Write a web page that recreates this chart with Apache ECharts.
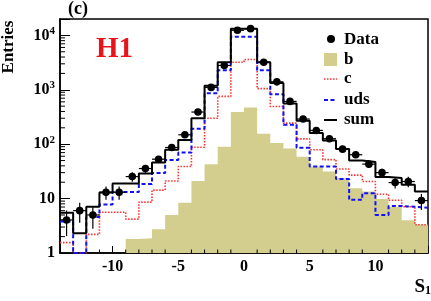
<!DOCTYPE html>
<html><head><meta charset="utf-8">
<script src="https://cdn.jsdelivr.net/npm/echarts@6/dist/echarts.min.js"></script>
<style>html,body{margin:0;padding:0;background:#fff}#c{width:431px;height:301px}</style>
</head><body><div id="c"></div>
<script>
// ---- data ----
const binLeft = [-14,-13,-12,-11,-10,-9,-8,-7,-6,-5,-4,-3,-2,-1,0,1,2,3,4,5,6,7,8,9,10,11,12,13];
const binWidth = 1;
const sumVals = [5.5,2.3,7.1,12.9,19,19,29,46,79,120,300,1190,3190,13200,13200,3190,1335,560,270,160,117,82,50,47,25,24,18,13.5];
const udsVals = [3.8,0,4.6,7.8,13.2,13.2,18.5,29.4,51,70,192,860,2275,9400,9400,2275,830,228,86,39,39,22.8,9.5,12.6,5.0,7.3,7.1,6.8];
const cVals   = [1.55,0,2.2,5.6,5.6,4.2,8.6,14.3,21,39,88,300,756,3200,3600,1050,494,244,125,79,52,35,27,20.6,12,9.3,7.1,3.3];
const bVals   = [0,0,0,0,0,1.8,1.87,2.73,5.0,8.4,21,43,90,390,470,156,105,83,59,39,31.5,24,15.5,13.5,9.8,7,4,3.3];
const dataVals = [4.05,6.0,5.0,13.1,13.1,25.4,35.7,53,87,149,390,1107,2800,12400,13300,3200,1400,611,290,179,126,81,64,43,30,19.7,20.6,9.2];
const dataErr  = [2.0,2.4,2.2,3.6,3.6,5,6,7.3,9.3,12,20,33,53,111,115,57,37,25,17,13,11,9,8,6.6,5.5,4.4,4.5,3];
const xTickLabels = ['-10','-5','0','5','10'];
const yMin = 1, yMax = 20000;

const colB = '#d4ce8e', colC = '#ff3030', colUds = '#1010ff';
const FONT = '"Liberation Serif","DejaVu Serif",serif';

function stepData(vals){
  const d = binLeft.map((x,i)=>[x, Math.max(vals[i], yMin)]);
  const n = binLeft.length-1;
  d.push([binLeft[n]+binWidth, Math.max(vals[n], yMin)]);
  return d;
}
// minor tick positions (axis decoration only)
const xMinorTicks = [];
for (let x=-13; x<=13; x++) if (x % 5 !== 0) xMinorTicks.push(x);
const yMinorTicks = [];
for (let e=0; e<=4; e++) for (let k=2; k<=9; k++){ const v=k*Math.pow(10,e); if (v<yMax) yMinorTicks.push(v); }

const chart = echarts.init(document.getElementById('c'), null, {renderer:'canvas'});
chart.setOption({
  animation:false,
  backgroundColor:'#fff',
  grid:{left:60, right:1, top:19, bottom:48, show:true, borderColor:'#000', borderWidth:1.5, backgroundColor:'transparent'},
  xAxis:{type:'value', min:-14, max:14,
    axisLine:{onZero:false, lineStyle:{color:'#000', width:1.5}},
    axisTick:{inside:true, length:7, lineStyle:{color:'#000', width:1}},
    splitLine:{show:false},
    axisLabel:{margin:6, color:'#000', fontFamily:FONT, fontWeight:'bold', fontSize:16,
      formatter:v=>{ const s=String(Math.round(v)); return xTickLabels.indexOf(s)>=0? s : ''; }}
  },
  yAxis:{type:'log', logBase:10, min:yMin, max:yMax,
    axisLine:{onZero:false, lineStyle:{color:'#000', width:1.5}},
    axisTick:{inside:true, length:10, lineStyle:{color:'#000', width:1}},
    splitLine:{show:false}, minorTick:{show:false},
    axisLabel:{margin:5, color:'#000', fontFamily:FONT, fontWeight:'bold', fontSize:16,
      formatter:v=>{ const e=Math.round(Math.log10(v)); if (Math.abs(Math.log10(v)-e)>1e-6) return '';
        if (e===0) return '1'; if (e===1) return '10'; return '10{sup|'+e+'}'; },
      rich:{sup:{fontFamily:FONT, fontWeight:'bold', fontSize:11, verticalAlign:'bottom', padding:[0,0,9,0]}}
    }
  },
  series:[
    {name:'b', type:'line', step:'end', data:stepData(bVals), symbol:'none', z:1,
      lineStyle:{width:0, color:colB}, areaStyle:{origin:'start', color:colB, opacity:1}},
    {name:'ticks', type:'custom', clip:false, z:2, silent:true,
      data: xMinorTicks.map(x=>[0,x]).concat(yMinorTicks.map(v=>[1,v])),
      renderItem:(params, api)=>{
        const t=api.value(0), v=api.value(1);
        if (t===0){ const p=api.coord([v, yMin]); return {type:'line', shape:{x1:p[0],y1:p[1],x2:p[0],y2:p[1]-3.5}, style:{stroke:'#000', lineWidth:1}}; }
        const p=api.coord([-14, v]); return {type:'line', shape:{x1:p[0],y1:p[1],x2:p[0]+5,y2:p[1]}, style:{stroke:'#000', lineWidth:1}};
      }},
    {name:'c', type:'line', step:'end', data:stepData(cVals), symbol:'none', z:3,
      lineStyle:{color:colC, width:1.6, type:[1.5,1.5]}},
    {name:'uds', type:'line', step:'end', data:stepData(udsVals), symbol:'none', z:4,
      lineStyle:{color:colUds, width:2, type:[4,2.5]}},
    {name:'sum', type:'line', step:'end', data:stepData(sumVals), symbol:'none', z:5,
      lineStyle:{color:'#000', width:2}},
    {name:'Data', type:'custom', clip:true, z:6,
      data: binLeft.map((x,i)=>[x+binWidth/2, dataVals[i], dataErr[i]]),
      renderItem:(params, api)=>{
        const xc=api.value(0), v=api.value(1), e=api.value(2);
        const p=api.coord([xc, v]);
        const lo=api.coord([xc, Math.max(v-e, yMin)]), hi=api.coord([xc, v+e]);
        const l=api.coord([xc-binWidth/2, v]), r=api.coord([xc+binWidth/2, v]);
        return {type:'group', children:[
          {type:'line', shape:{x1:lo[0],y1:lo[1],x2:hi[0],y2:hi[1]}, style:{stroke:'#000', lineWidth:1.2}},
          {type:'line', shape:{x1:l[0],y1:l[1],x2:r[0],y2:r[1]}, style:{stroke:'#000', lineWidth:1.2}},
          {type:'circle', shape:{cx:p[0], cy:p[1], r:3.8}, style:{fill:'#000'}}
        ]};
      }}
  ],
  graphic:[
    {type:'text', left:68, top:0, style:{text:'(c)', font:'bold 18px '+FONT, fill:'#000'}},
    {type:'text', x:9, y:47, rotation:Math.PI/2, style:{text:'Entries', font:'bold 17px '+FONT, fill:'#000', align:'center', verticalAlign:'middle'}},
    {type:'text', x:96, y:50, style:{text:'H1', font:'bold 29px '+FONT, fill:'#e8141c', align:'left', verticalAlign:'middle'}},
    {type:'text', x:431, y:297, style:{text:'{s|S}{sub|1}', align:'right', verticalAlign:'bottom',
      rich:{s:{font:'bold 19px '+FONT, fill:'#000'}, sub:{font:'bold 12px '+FONT, fill:'#000', verticalAlign:'bottom', padding:[4,0,0,0]}}}},
    // legend
    {type:'circle', shape:{cx:331, cy:39, r:4}, style:{fill:'#000'}},
    {type:'rect', shape:{x:324, y:53, width:13, height:13}, style:{fill:colB}},
    {type:'line', shape:{x1:324, y1:79, x2:337, y2:79}, style:{stroke:colC, lineWidth:1.6, lineDash:[1.5,1.5]}},
    {type:'line', shape:{x1:324, y1:100, x2:337, y2:100}, style:{stroke:colUds, lineWidth:2, lineDash:[4,2.5]}},
    {type:'line', shape:{x1:324, y1:120, x2:337, y2:120}, style:{stroke:'#000', lineWidth:2}},
    {type:'text', x:344, y:40, style:{text:'Data', font:'bold 17px '+FONT, fill:'#000', verticalAlign:'middle'}},
    {type:'text', x:344, y:60, style:{text:'b', font:'bold 17px '+FONT, fill:'#000', verticalAlign:'middle'}},
    {type:'text', x:344, y:79, style:{text:'c', font:'bold 17px '+FONT, fill:'#000', verticalAlign:'middle'}},
    {type:'text', x:344, y:100, style:{text:'uds', font:'bold 17px '+FONT, fill:'#000', verticalAlign:'middle'}},
    {type:'text', x:344, y:120, style:{text:'sum', font:'bold 17px '+FONT, fill:'#000', verticalAlign:'middle'}}
  ]
});
</script></body></html>
